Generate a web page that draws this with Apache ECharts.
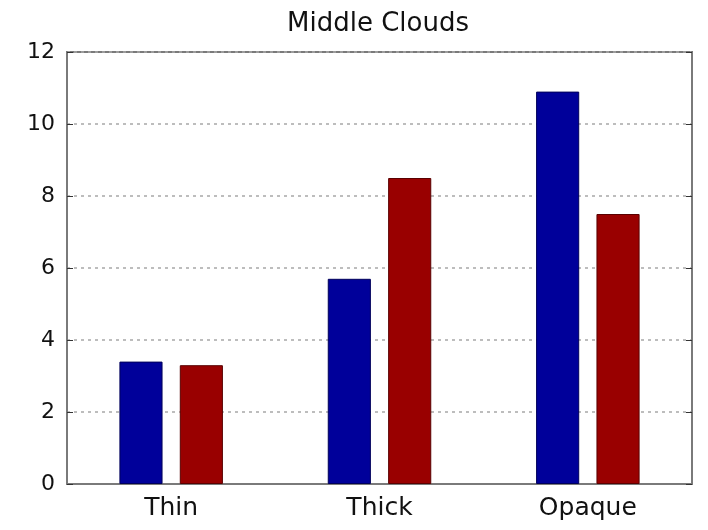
<!DOCTYPE html>
<html>
<head>
<meta charset="utf-8">
<script src="https://cdn.jsdelivr.net/npm/echarts@6/dist/echarts.min.js"></script>
<style>
  html, body { margin: 0; padding: 0; background: #fff; }
  #chart { width: 708px; height: 530px; }
</style>
</head>
<body>
<div id="chart"></div>
<script>
// Cloud type categories and the two bar series
const categories = ['Thin', 'Thick', 'Opaque'];
const seriesA = [3.4, 5.7, 10.9];
const seriesB = [3.3, 8.5, 7.5];
const yTicks = [0, 2, 4, 6, 8, 10, 12];

const chart = echarts.init(document.getElementById('chart'));
const axisColor = '#7a7a7a';
const font = 'DejaVu Sans, Verdana, sans-serif';

chart.setOption({
  animation: false,
  title: {
    text: 'Middle Clouds',
    left: 282,
    top: 6,
    textStyle: { fontFamily: font, fontSize: 26, fontWeight: 'normal', color: '#111' }
  },
  grid: { left: 67, right: 16, top: 52, bottom: 46, show: true, borderColor: axisColor, borderWidth: 2 },
  xAxis: [{
    type: 'category',
    data: categories,
    axisLine: { lineStyle: { color: axisColor, width: 2 } },
    axisTick: { show: false },
    axisLabel: { fontFamily: font, fontSize: 25, color: '#111', margin: 12 }
  }],
  yAxis: [{
    type: 'value',
    min: yTicks[0],
    max: yTicks[yTicks.length - 1],
    interval: 2,
    axisLine: { show: true, lineStyle: { color: axisColor, width: 2 } },
    axisTick: { show: true, inside: true, length: 6, lineStyle: { color: '#333' } },
    axisLabel: { fontFamily: font, fontSize: 22, color: '#111', margin: 12 },
    splitLine: { show: true, lineStyle: { color: '#a8a8a8', type: [3, 4], width: 1.5 } }
  }, {
    type: 'value',
    position: 'right',
    min: yTicks[0],
    max: yTicks[yTicks.length - 1],
    interval: 2,
    axisLine: { show: true, lineStyle: { color: axisColor, width: 2 } },
    axisTick: { show: true, inside: true, length: 6, lineStyle: { color: '#333' } },
    axisLabel: { show: false },
    splitLine: { show: false }
  }],
  series: [{
    type: 'bar',
    data: seriesA,
    barWidth: '20.7%',
    barGap: '40%',
    itemStyle: { color: '#00009a', borderColor: '#00005a', borderWidth: 1 }
  }, {
    type: 'bar',
    data: seriesB,
    barWidth: '20.7%',
    barGap: '40%',
    itemStyle: { color: '#990000', borderColor: '#5a0000', borderWidth: 1 }
  }]
});
</script>
</body>
</html>
